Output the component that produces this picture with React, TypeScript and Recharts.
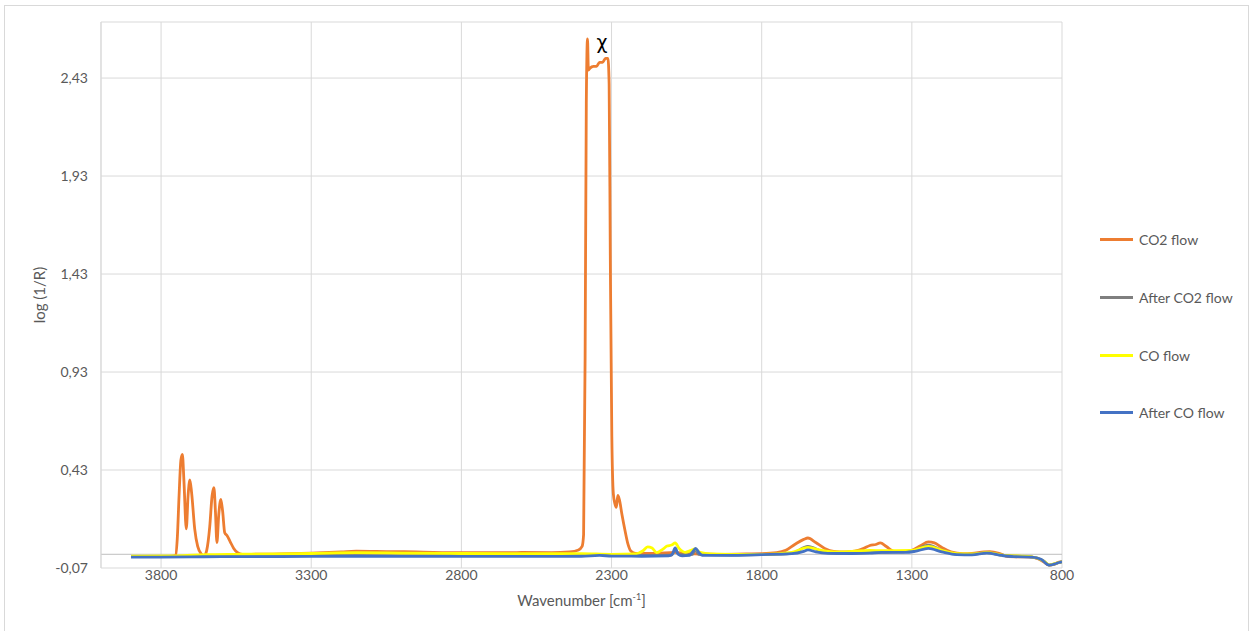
import React from 'react';
import {
  LineChart,
  Line,
  XAxis,
  YAxis,
  CartesianGrid,
  ReferenceLine,
  ReferenceDot,
  Legend,
  Label,
} from 'recharts';

// Spectra: [wavenumber (cm-1), log(1/R)], ordered from high to low wavenumber
const co2Flow: [number, number][] = [
  [3900, -0.012], [3850, -0.012], [3800, -0.011], [3760, -0.009], [3752, -0.006],
  [3746, 0.08], [3740, 0.3], [3734, 0.48], [3729, 0.51], [3724, 0.38],
  [3716, 0.13], [3710, 0.3], [3704, 0.38], [3698, 0.31], [3688, 0.13],
  [3678, 0.04], [3665, 0.0], [3657, -0.01], [3648, 0.02], [3638, 0.14],
  [3630, 0.3], [3624, 0.34], [3619, 0.22], [3614, 0.06], [3608, 0.2],
  [3601, 0.28], [3595, 0.22], [3588, 0.11], [3580, 0.095], [3570, 0.065],
  [3558, 0.03], [3545, 0.008], [3530, 0.0], [3500, 0.0], [3400, 0.002],
  [3300, 0.006], [3200, 0.012], [3150, 0.016], [3050, 0.014], [2950, 0.012],
  [2800, 0.008], [2700, 0.008], [2600, 0.009], [2500, 0.008], [2440, 0.012],
  [2410, 0.022], [2398, 0.04], [2393, 0.1], [2388, 1.0], [2384, 2.3],
  [2380, 2.63], [2377, 2.47], [2372, 2.48], [2360, 2.49], [2350, 2.49],
  [2340, 2.51], [2330, 2.51], [2320, 2.53], [2312, 2.53], [2308, 2.4],
  [2304, 1.5], [2299, 0.6], [2294, 0.31], [2289, 0.26], [2284, 0.24],
  [2279, 0.3], [2274, 0.28], [2265, 0.2], [2255, 0.12], [2245, 0.05],
  [2235, 0.015], [2220, 0.004], [2150, 0.005], [2090, 0.01], [2050, 0.004],
  [1950, 0.0], [1850, 0.002], [1800, 0.003], [1750, 0.008], [1720, 0.02],
  [1690, 0.05], [1660, 0.076], [1646, 0.083], [1620, 0.06], [1590, 0.03],
  [1560, 0.015], [1520, 0.012], [1490, 0.016], [1460, 0.03], [1440, 0.045],
  [1420, 0.05], [1405, 0.058], [1385, 0.04], [1360, 0.015], [1330, 0.013],
  [1300, 0.02], [1270, 0.045], [1245, 0.063], [1225, 0.058], [1200, 0.035],
  [1170, 0.012], [1130, 0.003], [1100, 0.004], [1060, 0.012], [1040, 0.013],
  [1010, 0.005], [980, -0.012], [940, -0.013], [900, -0.014], [880, -0.022],
  [860, -0.04], [843, -0.055], [825, -0.05], [810, -0.04], [800, -0.037],
];

const afterCo2Flow: [number, number][] = [
  [3900, -0.012], [3700, -0.012], [3500, -0.008], [3300, -0.006], [3000, -0.007],
  [2600, -0.006], [2400, -0.005], [2340, 0.0], [2310, -0.004], [2200, -0.006],
  [2100, -0.004], [2088, 0.02], [2075, -0.002], [2030, 0.0], [2022, 0.025],
  [2010, 0.0], [1900, -0.004], [1800, -0.002], [1700, 0.005], [1646, 0.04],
  [1600, 0.015], [1550, 0.005], [1440, 0.008], [1400, 0.01], [1300, 0.015],
  [1245, 0.047], [1200, 0.02], [1150, 0.0], [1100, 0.0], [1050, 0.008],
  [1000, -0.005], [900, -0.014], [860, -0.035], [843, -0.055], [810, -0.042],
  [800, -0.038],
];

const coFlow: [number, number][] = [
  [3900, -0.01], [3750, -0.008], [3650, -0.002], [3550, 0.0], [3400, 0.002],
  [3300, 0.004], [3150, 0.008], [3000, 0.006], [2800, 0.004], [2600, 0.003],
  [2400, 0.003], [2300, 0.0], [2220, 0.002], [2195, 0.018], [2180, 0.038],
  [2165, 0.032], [2150, 0.008], [2130, 0.025], [2115, 0.042], [2100, 0.047],
  [2088, 0.058], [2075, 0.03], [2055, 0.01], [2035, 0.02], [2022, 0.027],
  [2005, 0.01], [1970, 0.002], [1900, 0.0], [1800, 0.0], [1700, 0.01],
  [1646, 0.035], [1600, 0.02], [1550, 0.012], [1500, 0.015], [1440, 0.02],
  [1400, 0.018], [1300, 0.02], [1245, 0.04], [1200, 0.02], [1150, 0.003],
  [1100, 0.002], [1050, 0.008], [1000, -0.004], [900, -0.013], [860, -0.035],
  [843, -0.054], [810, -0.042], [800, -0.038],
];

const afterCoFlow: [number, number][] = [
  [3900, -0.014], [3800, -0.014], [3700, -0.013], [3600, -0.012], [3500, -0.012],
  [3300, -0.011], [3000, -0.011], [2700, -0.011], [2400, -0.01], [2340, -0.006],
  [2300, -0.009], [2200, -0.01], [2110, -0.008], [2098, 0.0], [2088, 0.032],
  [2078, 0.0], [2065, -0.008], [2040, -0.006], [2030, 0.012], [2020, 0.03],
  [2010, 0.01], [1998, -0.005], [1950, -0.006], [1850, -0.004], [1800, -0.002],
  [1700, 0.003], [1660, 0.015], [1646, 0.022], [1620, 0.012], [1580, 0.005],
  [1500, 0.004], [1440, 0.006], [1400, 0.01], [1320, 0.01], [1290, 0.015],
  [1245, 0.03], [1200, 0.012], [1150, -0.002], [1100, -0.003], [1050, 0.006],
  [1000, -0.006], [960, -0.012], [900, -0.014], [870, -0.025], [843, -0.055],
  [825, -0.05], [810, -0.042], [800, -0.038],
];

const seriesNames = ['CO2 flow', 'After CO2 flow', 'CO flow', 'After CO flow'];
const seriesColors = ['#ED7D31', '#7F7F7F', '#FFFF00', '#4472C4'];
const seriesPoints = [co2Flow, afterCo2Flow, coFlow, afterCoFlow];

const xTicks = [3800, 3300, 2800, 2300, 1800, 1300, 800];
const yTicks = [-0.07, 0.43, 0.93, 1.43, 1.93, 2.43];
const xDomain: [number, number] = [800, 4000];
const yDomain: [number, number] = [-0.07, 2.716];

// Label placed above the CO2 band
const peakMark = { wn: 2332, value: 2.614, text: 'χ' };

const FONT = 'Lato, "Open Sans", sans-serif';
const TEXT_GREY = '#595959';
const LEGEND_WIDTH = 150;

const toRows = (pts: [number, number][]) => pts.map(([wn, v]) => ({ wn, v }));

const fmtY = (v: number) => v.toFixed(2).replace('.', ',');

const renderLegend = () => (
  <div style={{ fontFamily: FONT, fontSize: 14, color: TEXT_GREY }}>
    {seriesNames.map((name, i) => (
      <div
        key={name}
        style={{ height: 57.7, display: 'flex', alignItems: 'center', whiteSpace: 'nowrap' }}
      >
        <span
          style={{
            display: 'inline-block',
            width: 33,
            height: 3,
            background: seriesColors[i],
            marginRight: 6,
          }}
        />
        <span>{name}</span>
      </div>
    ))}
  </div>
);

export default function App() {
  return (
    <div
      style={{
        position: 'absolute',
        left: 0,
        top: 0,
        width: 1252,
        height: 631,
        overflow: 'hidden',
        background: '#fff',
      }}
    >
      <div
        style={{
          position: 'absolute',
          left: 4,
          top: 5,
          width: 1245,
          height: 660,
          border: '1px solid #d9d9d9',
          boxSizing: 'border-box',
        }}
      />
      <div style={{ position: 'absolute', left: 0, top: 0 }}>
        <LineChart
          width={1252}
          height={631}
          // the legend box width is reserved on the right by the chart itself
          margin={{ top: 22, right: 190 - LEGEND_WIDTH, bottom: 0, left: 0 }}
        >
          <CartesianGrid stroke="#d9d9d9" strokeWidth={1} />
          <XAxis
            dataKey="wn"
            type="number"
            domain={xDomain}
            ticks={xTicks}
            reversed
            allowDataOverflow
            interval={0}
            height={63}
            axisLine={false}
            tickLine={false}
            tickSize={0}
            tickMargin={2}
            tick={{ fill: TEXT_GREY, fontSize: 14, fontFamily: FONT }}
          >
            <Label
              content={(props: any) => {
                const vb = props.viewBox || {};
                const cx = vb.x + vb.width / 2;
                const cy = vb.y + 38;
                return (
                  <text
                    x={cx}
                    y={cy}
                    textAnchor="middle"
                    fill={TEXT_GREY}
                    fontSize={15}
                    fontFamily={FONT}
                  >
                    Wavenumber [cm
                    <tspan dy={-6} fontSize={9}>-1</tspan>
                    <tspan dy={6}>]</tspan>
                  </text>
                );
              }}
            />
          </XAxis>
          <YAxis
            type="number"
            domain={yDomain}
            ticks={yTicks}
            allowDataOverflow
            interval={0}
            width={101}
            axisLine={{ stroke: '#d9d9d9' }}
            tickLine={false}
            tickSize={6}
            tickMargin={7}
            tickFormatter={fmtY}
            tick={{ fill: TEXT_GREY, fontSize: 14, fontFamily: FONT }}
          >
            <Label
              content={(props: any) => {
                const vb = props.viewBox || {};
                const cx = vb.x + 39;
                const cy = vb.y + vb.height / 2;
                return (
                  <text
                    x={cx}
                    y={cy}
                    transform={`rotate(-90 ${cx} ${cy})`}
                    textAnchor="middle"
                    dominantBaseline="central"
                    fill={TEXT_GREY}
                    fontSize={15}
                    fontFamily={FONT}
                  >
                    log (1/R)
                  </text>
                );
              }}
            />
          </YAxis>
          <ReferenceLine y={0} stroke="#bfbfbf" strokeWidth={1} />
          {seriesPoints.map((pts, i) => (
            <Line
              key={seriesNames[i]}
              data={toRows(pts)}
              dataKey="v"
              name={seriesNames[i]}
              type="monotone"
              stroke={seriesColors[i]}
              strokeWidth={2.8}
              dot={false}
              activeDot={false}
              isAnimationActive={false}
            />
          ))}
          <ReferenceDot
            x={peakMark.wn}
            y={peakMark.value}
            r={0}
            ifOverflow="visible"
            shape={(p: any) => (
              <text
                x={p.cx}
                y={p.cy}
                textAnchor="middle"
                dominantBaseline="central"
                fill="#000"
                fontSize={19}
                fontFamily='"DejaVu Sans", sans-serif'
              >
                {peakMark.text}
              </text>
            )}
          />
          <Legend
            layout="horizontal"
            verticalAlign="middle"
            align="right"
            content={renderLegend}
            wrapperStyle={{ left: 1100, top: 211, width: LEGEND_WIDTH, height: 232 }}
          />
        </LineChart>
      </div>
    </div>
  );
}
